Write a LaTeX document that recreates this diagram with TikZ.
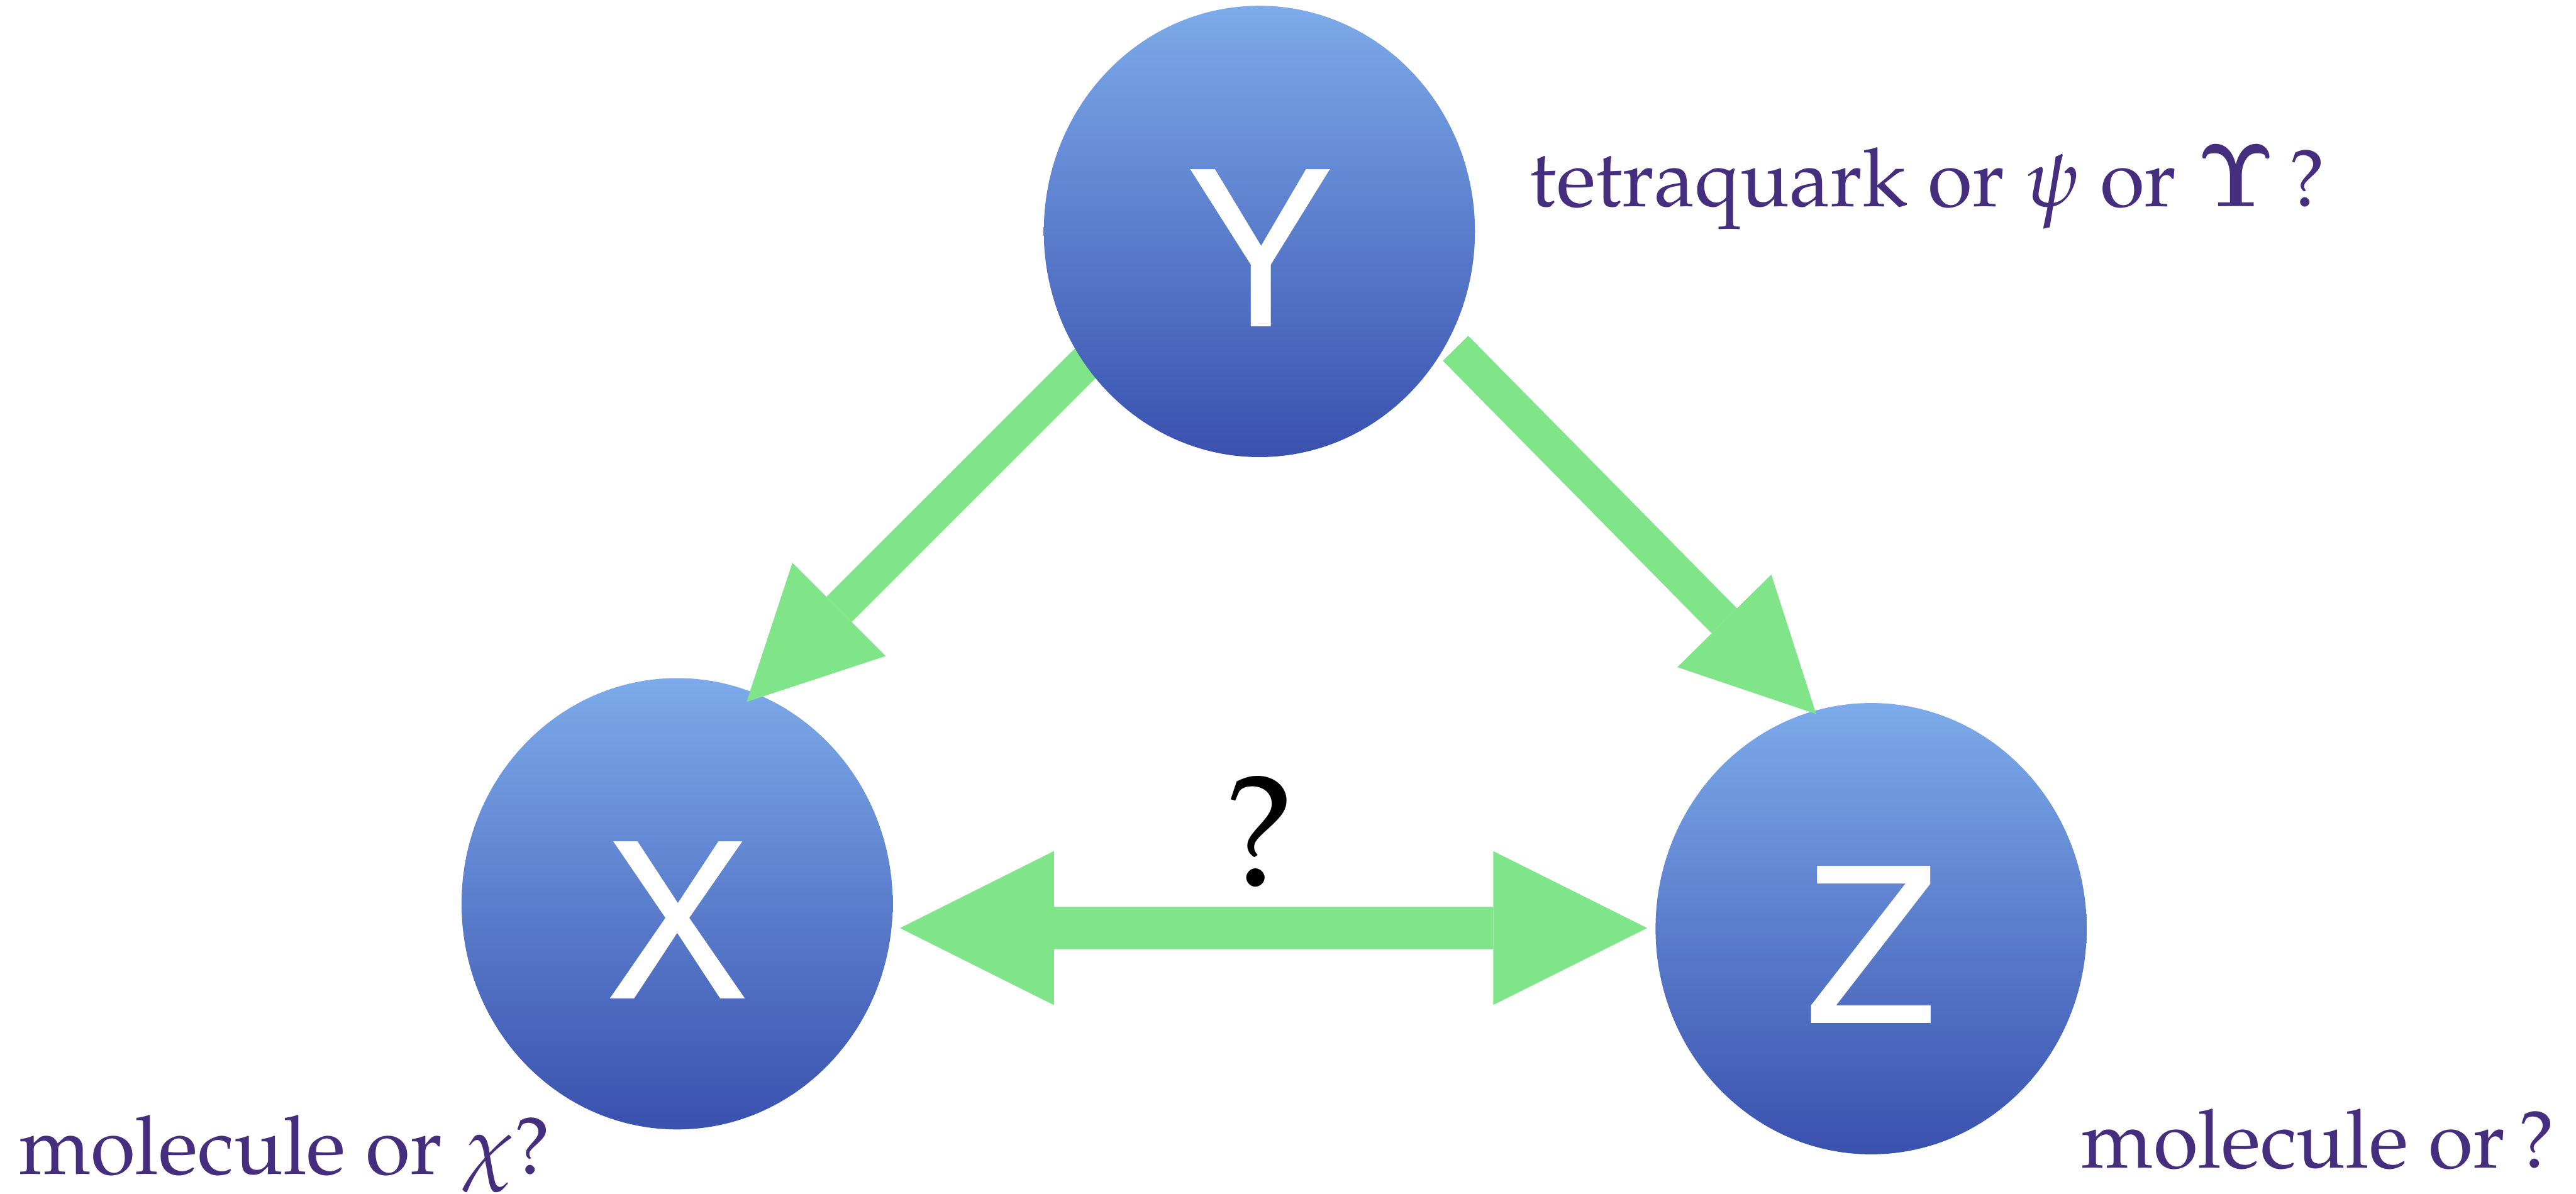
\RequirePackage{fix-cm}
\documentclass[tikz,border=0pt]{standalone}
\usepackage[T1]{fontenc}
\usepackage{mathpazo}
\usetikzlibrary{arrows.meta,calc,shapes.geometric}
\definecolor{ballTop}{HTML}{7CAAEA}
\definecolor{ballBot}{HTML}{3A51AE}
\definecolor{flow}{HTML}{80E588}
\definecolor{ink}{HTML}{462E7E}
\newcommand{\ballfont}{\usefont{T1}{phv}{m}{n}\fontsize{106}{110}\selectfont}
\newcommand{\notefont}{\fontsize{40}{48}\selectfont}
\newcommand{\hookUpsilon}{{\fontencoding{OT1}\fontfamily{cmr}\fontseries{bx}\fontshape{n}\fontsize{44}{48}\selectfont\char7}}

\begin{document}
\begin{tikzpicture}[x=1cm,y=1cm,
 ball/.style={ellipse,minimum width=7.45cm,minimum height=7.8cm,inner sep=0pt,
  top color=ballTop,bottom color=ballBot,draw=none,text=white,font=\ballfont,text height=3.28cm},
 flowline/.style={draw=flow,line width=.615cm,-{Triangle[length=2.26cm,width=2.28cm,line width=0pt]}},
 note/.style={text=ink,font=\notefont,inner sep=0pt}]
\useasboundingbox (0,0) rectangle (44.51,20.63);
\node[ball] (X) at (11.70,5.01) {X};
\node[ball] (Z) at (32.33,4.58) {Z};
\coordinate (Ypos) at (21.76,16.63);
% decays from Y
\coordinate (yx tail) at ($(Ypos)+(-2.96,-2.23)$);
\coordinate (yx head) at ($(X.center)+(1.20,3.49)$);
\coordinate (yz tail) at ($(Ypos)+(3.39,-2.02)$);
\coordinate (yz head) at ($(Z.center)+(-0.95,3.71)$);
\draw[flowline] (yx tail) -- (yx head);
\draw[flowline] (yz tail) -- (yz head);
\coordinate (xz left) at ($(X.center)+(3.85,-0.42)$);
\coordinate (xz right) at ($(Z.center)+(-3.87,0.01)$);
\draw[draw=flow,line width=.73cm,
 {Triangle[length=2.66cm,width=2.66cm,line width=0pt]}-{Triangle[length=2.66cm,width=2.66cm,line width=0pt]}]
 (xz left) -- (xz right);
\node[ball] (Y) at (Ypos) {Y};
\node[font=\fontsize{78}{80}\selectfont,inner sep=0pt,anchor=base] (link) at (21.76,5.31) {?};
\node[note,anchor=base west] (Ynote) at (26.43,17.06) {tetraquark or $\psi$ or \hookUpsilon\,?};
\node[note,anchor=base west] (Xnote) at (0.32,0.34) {molecule or $\chi$?};
\node[note,anchor=base west] (Znote) at (35.96,0.45) {molecule or\,?};
\end{tikzpicture}
\end{document}
